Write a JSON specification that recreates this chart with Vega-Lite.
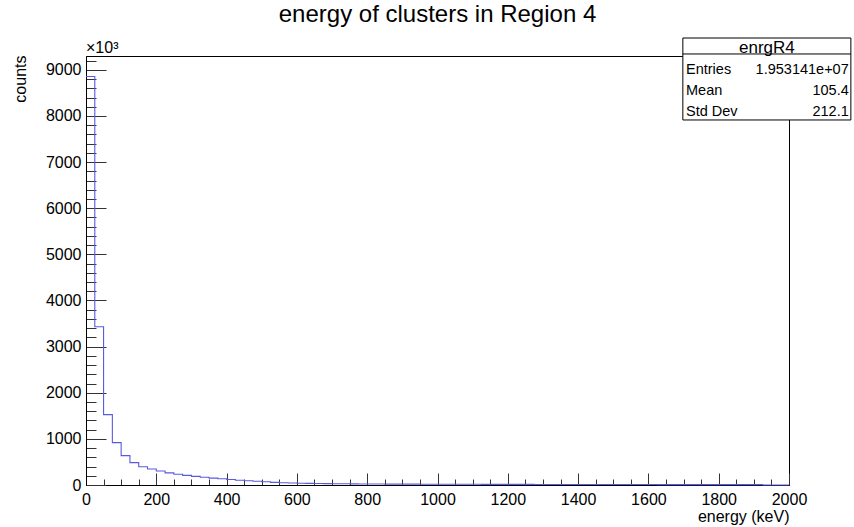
{
  "$schema": "https://vega.github.io/schema/vega-lite/v6.json",
  "autosize": "none",
  "width": 703,
  "height": 429,
  "padding": {"left": 86, "top": 56, "right": 65, "bottom": 42},
  "background": "white",
  "title": {"text": "energy of clusters in Region 4", "frame": "group", "anchor": "middle", "baseline": "alphabetic", "offset": -8, "fontSize": 24, "font": "Liberation Sans", "fontWeight": "normal", "color": "black"},
  "config": {
    "view": {"stroke": "black", "strokeWidth": 1},
    "axis": {"labelFont": "Liberation Sans", "titleFont": "Liberation Sans", "labelColor": "black", "titleColor": "black", "domainColor": "black", "tickColor": "#333", "grid": false, "labelFlush": false, "labelOverlap": false, "titleFontWeight": "normal", "labelFontSize": 16, "titleFontSize": 16, "tickCount": 200}
  },
  "data": {"values": [
    {"e": 0, "c": 8855}, {"e": 25, "c": 3430}, {"e": 50, "c": 1525}, {"e": 75, "c": 918},
    {"e": 100, "c": 636}, {"e": 125, "c": 484}, {"e": 150, "c": 397}, {"e": 175, "c": 347},
    {"e": 200, "c": 304}, {"e": 225, "c": 262}, {"e": 250, "c": 232}, {"e": 275, "c": 208},
    {"e": 300, "c": 187}, {"e": 325, "c": 168}, {"e": 350, "c": 150}, {"e": 375, "c": 134},
    {"e": 400, "c": 118}, {"e": 425, "c": 104}, {"e": 450, "c": 92}, {"e": 475, "c": 82},
    {"e": 500, "c": 70}, {"e": 525, "c": 57}, {"e": 550, "c": 50}, {"e": 575, "c": 44},
    {"e": 600, "c": 39}, {"e": 625, "c": 35}, {"e": 650, "c": 32}, {"e": 675, "c": 29.5},
    {"e": 700, "c": 27.5}, {"e": 725, "c": 26}, {"e": 750, "c": 24.5}, {"e": 775, "c": 23},
    {"e": 800, "c": 22}, {"e": 825, "c": 21}, {"e": 850, "c": 20}, {"e": 875, "c": 19.3},
    {"e": 900, "c": 18.6}, {"e": 925, "c": 18}, {"e": 950, "c": 17.4}, {"e": 975, "c": 16.9},
    {"e": 1000, "c": 16.4}, {"e": 1025, "c": 15.9}, {"e": 1050, "c": 15.5}, {"e": 1075, "c": 15.1},
    {"e": 1100, "c": 14.7}, {"e": 1125, "c": 14.3}, {"e": 1150, "c": 14}, {"e": 1175, "c": 13.6},
    {"e": 1200, "c": 13.3}, {"e": 1225, "c": 13}, {"e": 1250, "c": 12.7}, {"e": 1275, "c": 12.4},
    {"e": 1300, "c": 12.1}, {"e": 1325, "c": 11.9}, {"e": 1350, "c": 11.6}, {"e": 1375, "c": 11.4},
    {"e": 1400, "c": 11.1}, {"e": 1425, "c": 10.9}, {"e": 1450, "c": 10.6}, {"e": 1475, "c": 10.4},
    {"e": 1500, "c": 10.2}, {"e": 1525, "c": 10}, {"e": 1550, "c": 9.8}, {"e": 1575, "c": 9.6},
    {"e": 1600, "c": 9.4}, {"e": 1625, "c": 9.2}, {"e": 1650, "c": 9}, {"e": 1675, "c": 8.8},
    {"e": 1700, "c": 8.6}, {"e": 1725, "c": 8.4}, {"e": 1750, "c": 8.3}, {"e": 1775, "c": 8.1},
    {"e": 1800, "c": 7.9}, {"e": 1825, "c": 7.7}, {"e": 1850, "c": 7.6}, {"e": 1875, "c": 7.4},
    {"e": 1900, "c": 7.2}, {"e": 1925, "c": 0}, {"e": 1950, "c": 0}, {"e": 1975, "c": 0},
    {"e": 2000, "c": 0}
  ]},
  "layer": [
    {
      "mark": {"type": "line", "interpolate": "step-after", "color": "#5a5ae0", "strokeWidth": 1.1},
      "encoding": {
        "x": {"field": "e", "type": "quantitative", "scale": {"domain": [0, 2000], "nice": false, "zero": false},
          "axis": {"values": [0,50,100,150,200,250,300,350,400,450,500,550,600,650,700,750,800,850,900,950,1000,1050,1100,1150,1200,1250,1300,1350,1400,1450,1500,1550,1600,1650,1700,1750,1800,1850,1900,1950,2000],
            "tickCount": 200,
            "labelExpr": "datum.value % 200 === 0 ? datum.label : ''",
            "format": "d",
            "tickSize": {"condition": {"test": "datum.value % 200 === 0", "value": -12}, "value": -6},
            "labelPadding": 18,
            "title": "energy (keV)", "titleFontSize": 16, "titleFont": "Liberation Sans", "titleAnchor": "end", "titleAlign": "right", "titleBaseline": "alphabetic", "titleX": 703, "titleY": 36}},
        "y": {"field": "c", "type": "quantitative", "scale": {"domain": [0, 9300], "nice": false},
          "axis": {"values": [0,200,400,600,800,1000,1200,1400,1600,1800,2000,2200,2400,2600,2800,3000,3200,3400,3600,3800,4000,4200,4400,4600,4800,5000,5200,5400,5600,5800,6000,6200,6400,6600,6800,7000,7200,7400,7600,7800,8000,8200,8400,8600,8800,9000,9200],
            "tickCount": 200,
            "labelExpr": "datum.value % 1000 === 0 ? datum.label : ''",
            "format": "d",
            "tickSize": {"condition": {"test": "datum.value % 1000 === 0", "value": -20}, "value": -10},
            "labelPadding": 25,
            "title": "counts", "titleFontSize": 16, "titleFont": "Liberation Sans", "titleAngle": -90, "titleAlign": "right", "titleBaseline": "middle", "titleX": -66, "titleY": -1}}
      }
    },
    {
      "data": {"values": [{"t": "×10³"}]},
      "mark": {"type": "text", "align": "left", "baseline": "alphabetic", "dy": -3, "fontSize": 16, "font": "Liberation Sans", "color": "black"},
      "encoding": {"x": {"datum": 0}, "y": {"datum": 9300}, "text": {"field": "t"}}
    },
    {
      "data": {"values": [{}]},
      "mark": {"type": "rect", "fill": "white", "stroke": "black", "strokeWidth": 1},
      "encoding": {"x": {"datum": 1698}, "x2": {"datum": 2176}, "y": {"datum": 9690}, "y2": {"datum": 7913}}
    },
    {
      "data": {"values": [{}]},
      "mark": {"type": "rule", "color": "black", "strokeWidth": 1},
      "encoding": {"x": {"datum": 1698}, "x2": {"datum": 2176}, "y": {"datum": 9344}}
    },
    {
      "data": {"values": [{"t": "enrgR4"}]},
      "mark": {"type": "text", "align": "center", "baseline": "middle", "fontSize": 17, "font": "Liberation Sans", "color": "black"},
      "encoding": {"x": {"datum": 1937}, "y": {"datum": 9468}, "text": {"field": "t"}}
    },
    {
      "data": {"values": [{}]},
      "mark": {"type": "text", "text": ["Entries", "Mean", "Std Dev"], "lineHeight": 20.7, "align": "left", "baseline": "alphabetic", "fontSize": 14.5, "font": "Liberation Sans", "color": "black"},
      "encoding": {"x": {"datum": 1707}, "y": {"datum": 8904}}
    },
    {
      "data": {"values": [{}]},
      "mark": {"type": "text", "text": ["1.953141e+07", "105.4", "212.1"], "lineHeight": 20.7, "align": "right", "baseline": "alphabetic", "fontSize": 14.5, "font": "Liberation Sans", "color": "black"},
      "encoding": {"x": {"datum": 2170}, "y": {"datum": 8904}}
    }
  ]
}
